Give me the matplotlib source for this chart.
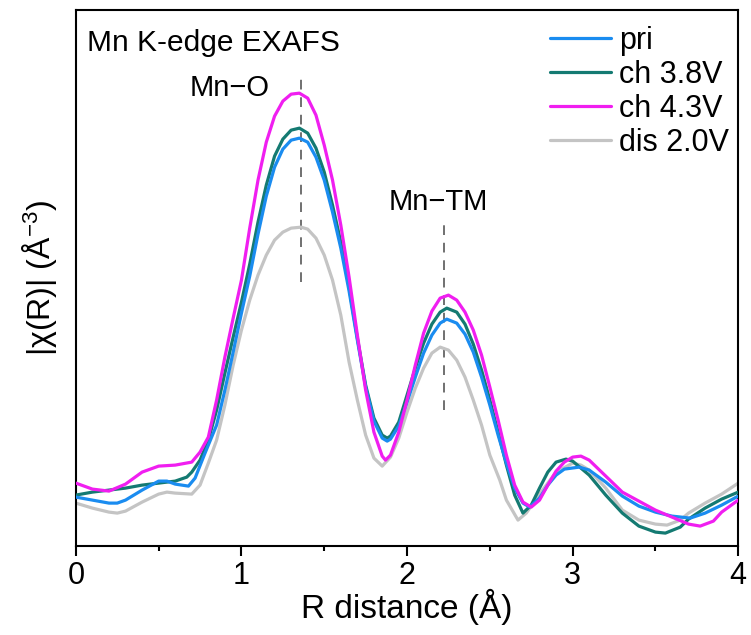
import matplotlib
matplotlib.use("Agg")
import matplotlib.pyplot as plt
from matplotlib.ticker import MultipleLocator

plt.rcParams['font.family'] = ['Liberation Sans', 'DejaVu Sans']
plt.rcParams['mathtext.fontset'] = 'custom'
plt.rcParams['mathtext.rm'] = 'Liberation Sans'
plt.rcParams['mathtext.default'] = 'regular'

# ---- data (arbitrary units) ----
r_pri = [0, 0.1, 0.2, 0.25, 0.3, 0.4, 0.5, 0.55, 0.6, 0.68, 0.72, 0.78, 0.85, 0.9, 0.95, 1.0, 1.05, 1.1, 1.15, 1.2,
         1.25, 1.3, 1.35, 1.4, 1.45, 1.5, 1.55, 1.6, 1.65, 1.7, 1.75, 1.8, 1.85, 1.88, 1.9, 1.95, 2.0, 2.05, 2.1,
         2.15, 2.2, 2.24, 2.3, 2.35, 2.4, 2.45, 2.5, 2.55, 2.6, 2.65, 2.7, 2.74, 2.8, 2.85, 2.9, 2.95, 3.04, 3.1,
         3.2, 3.3, 3.4, 3.5, 3.6, 3.71, 3.8, 3.9, 4.0]
pri = [4.9, 4.6, 4.3, 4.3, 4.6, 5.6, 6.5, 6.5, 6.2, 6.0, 6.8, 9.3, 12.1, 15.6, 19.4, 23.3, 27.0, 31.2, 35.0, 37.9,
       39.7, 40.6, 40.8, 40.4, 38.9, 36.6, 33.4, 29.8, 25.5, 20.6, 15.9, 12.5, 10.8, 10.5, 10.7, 12.0, 14.4, 16.9, 19.3,
       21.1, 22.3, 22.7, 22.3, 21.2, 19.4, 16.9, 14.1, 11.1, 8.3, 5.8, 4.3, 3.9, 4.8, 6.1, 7.1, 7.7, 7.9, 7.6,
       6.4, 5.0, 4.0, 3.4, 3.0, 2.8, 3.3, 4.1, 5.0]

r_ch38 = [0, 0.1, 0.2, 0.3, 0.4, 0.5, 0.6, 0.67, 0.7, 0.75, 0.8, 0.85, 0.9, 0.95, 1.0, 1.05, 1.1, 1.15, 1.2, 1.25,
          1.3, 1.35, 1.4, 1.45, 1.5, 1.55, 1.6, 1.65, 1.7, 1.75, 1.8, 1.85, 1.88, 1.9, 1.95, 2.0, 2.05, 2.1, 2.15,
          2.2, 2.24, 2.3, 2.35, 2.4, 2.45, 2.5, 2.55, 2.6, 2.65, 2.7, 2.75, 2.8, 2.85, 2.9, 2.96, 3.0, 3.1, 3.2,
          3.3, 3.4, 3.5, 3.56, 3.65, 3.7, 3.8, 3.9, 4.0]
ch38 = [5.1, 5.4, 5.6, 5.8, 6.1, 6.3, 6.5, 6.9, 7.4, 8.6, 10.6, 13.6, 17.3, 20.9, 24.4, 28.2, 32.4, 36.1, 39.0, 40.7,
        41.6, 41.8, 41.3, 39.8, 37.4, 34.1, 30.4, 25.9, 20.8, 16.1, 12.8, 11.1, 10.8, 11.0, 12.4, 15.1, 17.8, 20.3, 22.2,
        23.4, 23.8, 23.4, 22.2, 20.2, 17.6, 14.6, 11.4, 8.1, 5.1, 3.3, 4.1, 5.8, 7.4, 8.4, 8.7, 8.5, 7.1, 5.1,
        3.3, 2.0, 1.4, 1.3, 1.9, 2.7, 3.8, 4.7, 5.4]

r_ch43 = [0, 0.1, 0.2, 0.3, 0.4, 0.5, 0.6, 0.7, 0.75, 0.8, 0.85, 0.9, 0.95, 1.0, 1.05, 1.1, 1.15, 1.2, 1.25, 1.3,
          1.35, 1.4, 1.45, 1.5, 1.55, 1.6, 1.65, 1.7, 1.75, 1.8, 1.85, 1.87, 1.9, 1.95, 2.0, 2.05, 2.1, 2.15, 2.2,
          2.25, 2.3, 2.35, 2.4, 2.45, 2.5, 2.55, 2.6, 2.65, 2.7, 2.75, 2.8, 2.85, 2.9, 2.95, 3.0, 3.05, 3.1, 3.2,
          3.3, 3.4, 3.5, 3.6, 3.7, 3.77, 3.85, 3.9, 4.0]
ch43 = [6.3, 5.7, 5.5, 6.2, 7.4, 8.0, 8.1, 8.4, 9.4, 10.9, 14.6, 18.9, 22.8, 26.6, 31.8, 36.6, 40.4, 43.0, 44.5, 45.2,
        45.3, 44.8, 43.1, 40.1, 36.6, 32.1, 26.9, 21.1, 15.6, 11.4, 9.0, 8.6, 9.1, 11.4, 14.6, 18.1, 21.3, 23.5, 24.8,
        25.1, 24.6, 23.4, 21.6, 19.1, 15.9, 12.6, 9.1, 6.1, 4.4, 3.9, 4.6, 6.1, 7.5, 8.4, 8.9, 9.0, 8.6, 7.0,
        5.4, 4.5, 3.6, 2.9, 2.2, 2.0, 2.5, 3.4, 4.6]

r_dis = [0, 0.1, 0.2, 0.25, 0.3, 0.4, 0.5, 0.55, 0.6, 0.7, 0.75, 0.8, 0.85, 0.9, 0.95, 1.0, 1.05, 1.1, 1.15, 1.2,
         1.25, 1.3, 1.36, 1.4, 1.45, 1.5, 1.55, 1.6, 1.65, 1.7, 1.75, 1.8, 1.85, 1.9, 1.95, 2.0, 2.05, 2.1, 2.15,
         2.2, 2.25, 2.3, 2.35, 2.4, 2.45, 2.5, 2.56, 2.6, 2.67, 2.72, 2.8, 2.9, 3.0, 3.05, 3.1, 3.2, 3.3, 3.4,
         3.5, 3.57, 3.65, 3.7, 3.8, 3.9, 4.0]
dis = [4.3, 3.8, 3.4, 3.3, 3.5, 4.4, 5.2, 5.4, 5.3, 5.2, 6.1, 8.3, 10.6, 14.1, 18.1, 21.6, 24.6, 27.1, 29.1, 30.6,
       31.4, 31.8, 31.9, 31.7, 30.8, 29.1, 26.6, 23.1, 18.4, 14.6, 11.1, 8.8, 8.0, 8.9, 10.8, 13.4, 15.8, 17.8, 19.3,
       19.9, 19.6, 18.6, 16.9, 14.6, 12.1, 9.1, 6.6, 4.6, 2.6, 3.3, 5.2, 7.4, 8.3, 8.1, 7.6, 5.8, 3.6, 2.6,
       2.2, 2.1, 2.6, 3.3, 4.3, 5.2, 6.3]

labels = ["pri", "ch 3.8V", "ch 4.3V", "dis 2.0V"]
colors = ["#1a8cf0", "#147a72", "#f01ef0", "#c4c4c4"]

fig = plt.figure(figsize=(7.51, 6.35), dpi=100)
ax = fig.add_axes([0.101, 0.140, 0.882, 0.844])

# reference markers for the shells
ax.plot([1.358, 1.358], [26.4, 47.1], color="#707070", lw=1.4, ls=(0, (5, 4)), zorder=1)
ax.plot([2.225, 2.225], [13.6, 32.6], color="#707070", lw=1.4, ls=(0, (5, 4)), zorder=1)

order = [3, 1, 0, 2]
series = [(r_pri, pri), (r_ch38, ch38), (r_ch43, ch43), (r_dis, dis)]
handles = [None] * 4
for i in order:
    r, v = series[i]
    h, = ax.plot(r, v, color=colors[i], lw=2.3, label=labels[i], solid_joinstyle='round',
                 solid_capstyle='round', zorder=2 + order.index(i))
    handles[i] = h

ax.set_xlim(0, 4)
ax.set_ylim(0, 53.6)
ax.xaxis.set_major_locator(MultipleLocator(1))
ax.xaxis.set_minor_locator(MultipleLocator(0.5))
ax.set_yticks([])
ax.tick_params(axis='x', which='major', direction='out', length=7, width=1.5, labelsize=22, pad=4)
ax.tick_params(axis='x', which='minor', direction='out', length=3.5, width=1.5)
for s in ax.spines.values():
    s.set_linewidth(1.5)

ax.set_xlabel("R distance (Å)", fontsize=24, labelpad=-2)
ax.set_ylabel("|χ(R)| (Å$^{-3}$)", fontsize=23, labelpad=12)

ax.text(0.07, 50.3, "Mn K-edge EXAFS", fontsize=21.5, ha='left', va='center')
ax.text(0.93, 45.8, "Mn\u2212O", fontsize=21, ha='center', va='center')
ax.text(2.19, 34.4, "Mn\u2212TM", fontsize=21, ha='center', va='center')

leg = ax.legend(handles=handles, loc='upper right', frameon=False, fontsize=22,
                handlelength=2.0, handletextpad=0.25, labelspacing=0.13,
                borderaxespad=0.1, borderpad=0.2, bbox_to_anchor=(1.0, 0.988))

fig.savefig("out.png", dpi=100)
